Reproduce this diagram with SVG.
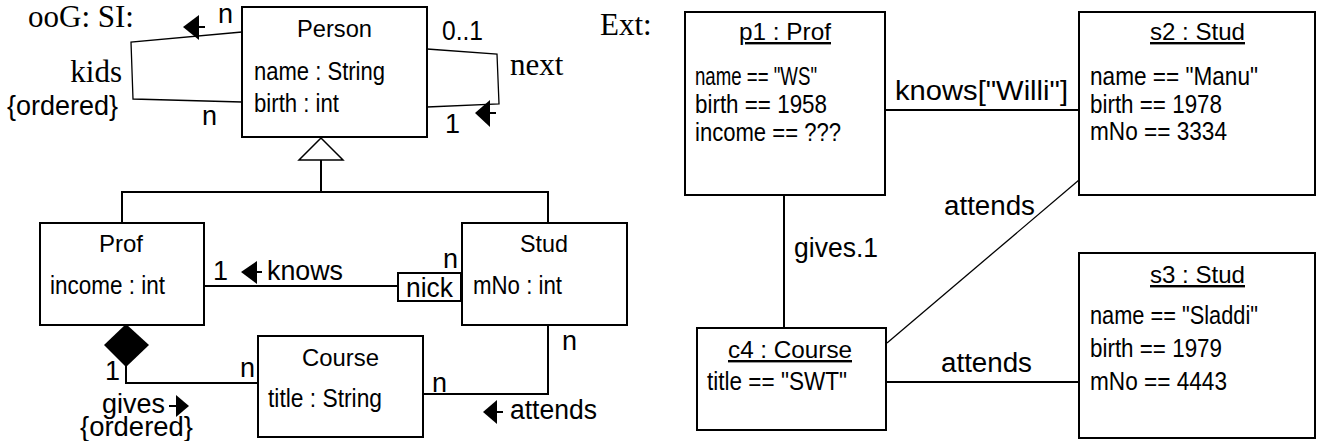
<svg xmlns="http://www.w3.org/2000/svg" width="1318" height="441" viewBox="0 0 1318 441">
<style>
.box{fill:#fff;stroke:#000;stroke-width:2}
.ln{fill:none;stroke:#000;stroke-width:2}
.thin{fill:none;stroke:#000;stroke-width:1.3}
.s{font-family:"Liberation Sans Narrow","Liberation Sans",Arial,sans-serif;font-size:25px;fill:#000}
.t{font-family:"Liberation Sans Narrow","Liberation Sans",Arial,sans-serif;font-size:24px;fill:#000}
.l{font-family:"Liberation Sans Narrow","Liberation Sans",Arial,sans-serif;font-size:27px;fill:#000}
.r{font-family:"Liberation Serif","Times New Roman",serif;font-size:31px;fill:#000}
.u{text-decoration:underline}
.ah{fill:#000;stroke:none}
</style>
<rect width="1318" height="441" fill="#fff"/>
<text class="r" x="28" y="27">ooG: SI:</text>
<text class="r" x="600" y="35">Ext:</text>

<g id="connectors">
  <!-- kids loop -->
  <polyline class="thin" points="242,32 131,42 133,99 242,102"/>
  <polygon class="ah" points="183,27 199,15 199,40"/>
  <line class="ln" x1="198" y1="27" x2="205" y2="27"/>
  <!-- next loop -->
  <polyline class="thin" points="427,49 497,54 499,104 427,107"/>
  <polygon class="ah" points="475,113 490,100 490,127"/>
  <line class="ln" x1="489" y1="113" x2="496" y2="113"/>
  <!-- generalization -->
  <polygon points="321,138 299,160 343,160" fill="#fff" stroke="#000" stroke-width="1.5"/>
  <line class="ln" x1="321" y1="160" x2="321" y2="192"/>
  <polyline class="ln" points="122,223 122,192 548,192 548,223"/>
  <!-- knows -->
  <line class="ln" x1="204" y1="286" x2="398" y2="286"/>
  <polygon class="ah" points="241,272 257,261 257,284"/>
  <line class="ln" x1="256" y1="272" x2="262" y2="272"/>
  <!-- gives composition -->
  <polygon class="ah" points="126,324 149,345 126,367 104,345"/>
  <polyline class="ln" points="126,366 126,383 258,383"/>
  <polygon class="ah" points="189,406 176,395 176,417"/>
  <line class="ln" x1="169" y1="406" x2="177" y2="406"/>
  <!-- attends -->
  <polyline class="ln" points="548,325 548,394 424,394"/>
  <polygon class="ah" points="483,412 497,400 497,424"/>
  <line class="ln" x1="496" y1="412" x2="503" y2="412"/>
  <!-- object links -->
  <line class="ln" x1="885" y1="110" x2="1079" y2="110"/>
  <line class="ln" x1="784" y1="195" x2="784" y2="328"/>
  <line class="thin" x1="1079" y1="180" x2="887" y2="343"/>
  <line class="ln" x1="886" y1="382" x2="1079" y2="382"/>

  <text class="l" x="218" y="23">n</text>
  <text class="l" x="202" y="125">n</text>
  <text class="r" x="122" y="82" text-anchor="end">kids</text>
  <text class="l" x="7" y="115" textLength="111" lengthAdjust="spacingAndGlyphs">{ordered}</text>
  <text class="l" x="442" y="40" textLength="41" lengthAdjust="spacingAndGlyphs">0..1</text>
  <text class="l" x="445" y="133">1</text>
  <text class="r" x="510" y="75">next</text>
  <text class="l" x="213" y="280">1</text>
  <text class="l" x="267" y="280" textLength="76" lengthAdjust="spacingAndGlyphs">knows</text>
  <text class="l" x="443" y="268">n</text>
  <text class="l" x="105" y="380">1</text>
  <text class="l" x="240" y="377">n</text>
  <text class="l" x="102" y="413" textLength="63" lengthAdjust="spacingAndGlyphs">gives</text>
  <text class="l" x="80" y="436" textLength="113" lengthAdjust="spacingAndGlyphs">{ordered}</text>
  <text class="l" x="562" y="350">n</text>
  <text class="l" x="432" y="392">n</text>
  <text class="l" x="510" y="419" textLength="87" lengthAdjust="spacingAndGlyphs">attends</text>
  <text class="l" x="895" y="100" textLength="173" lengthAdjust="spacingAndGlyphs">knows["Willi"]</text>
  <text class="l" x="944" y="215" textLength="91" lengthAdjust="spacingAndGlyphs">attends</text>
  <text class="l" x="794" y="257" textLength="84" lengthAdjust="spacingAndGlyphs">gives.1</text>
  <text class="l" x="941" y="372" textLength="91" lengthAdjust="spacingAndGlyphs">attends</text>
</g>

<g id="Person">
  <rect class="box" x="242" y="7" width="185" height="130"/>
  <text class="t" x="297" y="37" textLength="75" lengthAdjust="spacingAndGlyphs">Person</text>
  <text class="s" x="254" y="80" textLength="131" lengthAdjust="spacingAndGlyphs">name : String</text>
  <text class="s" x="254" y="112" textLength="85" lengthAdjust="spacingAndGlyphs">birth : int</text>
</g>
<g id="Prof">
  <rect class="box" x="40" y="223" width="164" height="102"/>
  <text class="t" x="99" y="252" textLength="44" lengthAdjust="spacingAndGlyphs">Prof</text>
  <text class="s" x="50" y="294" textLength="115" lengthAdjust="spacingAndGlyphs">income : int</text>
</g>
<g id="Stud">
  <rect class="box" x="462" y="223" width="165" height="102"/>
  <text class="t" x="520" y="252" textLength="48" lengthAdjust="spacingAndGlyphs">Stud</text>
  <text class="s" x="473" y="294" textLength="89" lengthAdjust="spacingAndGlyphs">mNo : int</text>
</g>
<g id="nick">
  <rect class="box" x="398" y="273" width="63" height="28"/>
  <text class="l" x="406" y="297" textLength="47" lengthAdjust="spacingAndGlyphs">nick</text>
</g>
<g id="Course">
  <rect class="box" x="258" y="336" width="165" height="101"/>
  <text class="t" x="302" y="366" textLength="77" lengthAdjust="spacingAndGlyphs">Course</text>
  <text class="s" x="268" y="407" textLength="114" lengthAdjust="spacingAndGlyphs">title : String</text>
</g>

<g id="p1">
  <rect class="box" x="685" y="12" width="200" height="183"/>
  <text class="t u" x="739" y="40" textLength="92" lengthAdjust="spacingAndGlyphs">p1 : Prof</text>
  <text class="s" x="695" y="85" textLength="122" lengthAdjust="spacingAndGlyphs">name == "WS"</text>
  <text class="s" x="695" y="113" textLength="132" lengthAdjust="spacingAndGlyphs">birth == 1958</text>
  <text class="s" x="695" y="141" textLength="146" lengthAdjust="spacingAndGlyphs">income == ???</text>
</g>
<g id="s2">
  <rect class="box" x="1079" y="12" width="236" height="183"/>
  <text class="t u" x="1150" y="40" textLength="95" lengthAdjust="spacingAndGlyphs">s2 : Stud</text>
  <text class="s" x="1090" y="85" textLength="168" lengthAdjust="spacingAndGlyphs">name == "Manu"</text>
  <text class="s" x="1090" y="113" textLength="132" lengthAdjust="spacingAndGlyphs">birth == 1978</text>
  <text class="s" x="1090" y="140" textLength="137" lengthAdjust="spacingAndGlyphs">mNo == 3334</text>
</g>
<g id="c4">
  <rect class="box" x="697" y="328" width="189" height="102"/>
  <text class="t u" x="728" y="358" textLength="124" lengthAdjust="spacingAndGlyphs">c4 : Course</text>
  <text class="s" x="707" y="390" textLength="140" lengthAdjust="spacingAndGlyphs">title == "SWT"</text>
</g>
<g id="s3">
  <rect class="box" x="1079" y="253" width="236" height="185"/>
  <text class="t u" x="1150" y="283" textLength="95" lengthAdjust="spacingAndGlyphs">s3 : Stud</text>
  <text class="s" x="1090" y="324" textLength="168" lengthAdjust="spacingAndGlyphs">name == "Sladdi"</text>
  <text class="s" x="1090" y="357" textLength="132" lengthAdjust="spacingAndGlyphs">birth == 1979</text>
  <text class="s" x="1090" y="390" textLength="137" lengthAdjust="spacingAndGlyphs">mNo == 4443</text>
</g>
</svg>
